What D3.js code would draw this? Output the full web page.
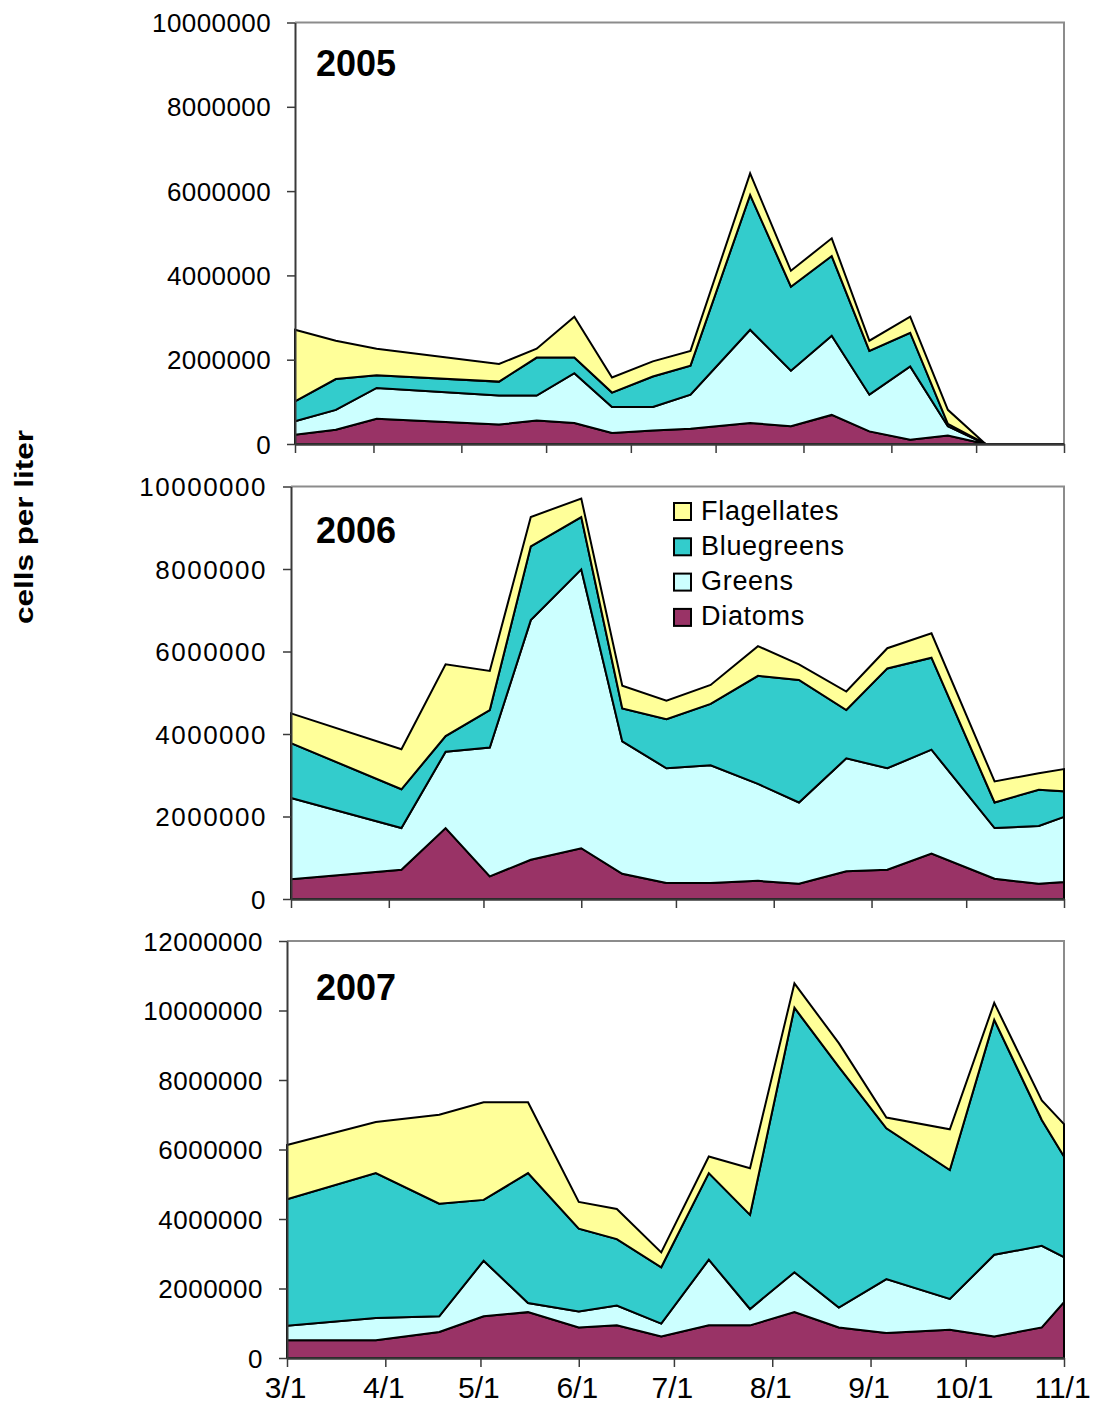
<!DOCTYPE html>
<html>
<head>
<meta charset="utf-8">
<script src="https://cdn.jsdelivr.net/npm/d3@7"></script>
<style>
  html, body { margin: 0; padding: 0; background: #fff; }
  svg { display: block; }
  text { font-family: "Liberation Sans", Arial, sans-serif; }
</style>
</head>
<body>
<script>
// ---------- DATA (values in millions of cells per liter) ----------
const seriesNames = ["Diatoms", "Greens", "Bluegreens", "Flagellates"];
const legendOrder = ["Flagellates", "Bluegreens", "Greens", "Diatoms"];
const seriesColors = ["#993366", "#CCFFFF", "#33CCCC", "#FFFF99"];

const dates2005 = ["3/1","3/14","3/27","5/5","5/17","5/29","6/10","6/23","7/5","7/24","8/6","8/19","8/31","9/13","9/25","10/7","11/1"];
const diatoms2005     = [0.22,0.34,0.60,0.46,0.56,0.50,0.26,0.32,0.36,0.50,0.42,0.69,0.30,0.10,0.20,0,0];
const greens2005      = [0.32,0.47,0.73,0.69,0.59,1.18,0.62,0.56,0.81,2.21,1.32,1.88,0.87,1.74,0.22,0,0];
const bluegreens2005  = [0.47,0.73,0.30,0.33,0.90,0.37,0.34,0.72,0.69,3.20,1.99,1.89,1.04,0.80,0.06,0,0];
const flagellates2005 = [1.70,0.91,0.63,0.42,0.21,0.97,0.36,0.36,0.35,0.51,0.38,0.42,0.24,0.38,0.33,0,0];

const dates2006 = ["3/1","4/5","4/19","5/3","5/16","6/1","6/14","6/28","7/12","7/27","8/9","8/24","9/6","9/20","10/10","10/24","11/1"];
const diatoms2006     = [0.48,0.71,1.72,0.55,0.95,1.23,0.61,0.39,0.39,0.44,0.37,0.67,0.71,1.10,0.49,0.37,0.41];
const greens2006      = [1.97,1.01,1.85,3.12,5.81,6.76,3.21,2.78,2.85,2.35,1.97,2.74,2.46,2.52,1.23,1.40,1.58];
const bluegreens2006  = [1.33,0.94,0.38,0.91,1.79,1.27,0.80,1.19,1.49,2.62,2.97,1.17,2.42,2.23,0.62,0.88,0.62];
const flagellates2006 = [0.72,0.97,1.74,0.95,0.71,0.45,0.55,0.45,0.46,0.72,0.38,0.45,0.49,0.59,0.51,0.40,0.54];

const dates2007 = ["3/1","3/29","4/18","5/2","5/16","6/1","6/13","6/27","7/12","7/25","8/8","8/22","9/6","9/26","10/10","10/25","11/1"];
const diatoms2007     = [0.51,0.51,0.75,1.20,1.32,0.88,0.94,0.62,0.94,0.94,1.32,0.88,0.72,0.81,0.62,0.88,1.61];
const greens2007      = [0.42,0.64,0.45,1.60,0.26,0.46,0.57,0.37,1.89,0.47,1.15,0.57,1.55,0.89,2.35,2.35,1.29];
const bluegreens2007  = [3.64,4.17,3.24,1.75,3.74,2.38,1.91,1.62,2.49,2.71,7.61,6.93,4.34,3.71,6.76,3.62,2.90];
const flagellates2007 = [1.56,1.47,2.56,2.81,2.04,0.77,0.87,0.43,0.48,1.34,0.70,0.68,0.31,1.17,0.49,0.56,0.93];

const yTicks2005 = [0, 2000000, 4000000, 6000000, 8000000, 10000000];
const yTicks2006 = [0, 2000000, 4000000, 6000000, 8000000, 10000000];
const yTicks2007 = [0, 2000000, 4000000, 6000000, 8000000, 10000000, 12000000];
const xTicks2005 = ["3/1","3/26","4/23","5/20","6/16","7/13","8/10","9/7","10/4","11/1"];
const xTickLabels = ["3/1","4/1","5/1","6/1","7/1","8/1","9/1","10/1","11/1"];
const yearLabels = ["2005", "2006", "2007"];
const yAxisTitle = "cells per liter";

// ---------- LAYOUT ----------
const W = 1097, H = 1411;
const svg = d3.select("body").append("svg").attr("width", W).attr("height", H);

const panels = [
  { year: 2005, dates: dates2005, vals: [diatoms2005, greens2005, bluegreens2005, flagellates2005],
    yTicks: yTicks2005, yMax: 10000000, left: 295, right: 1064, top: 22.5, bottom: 444,
    xTicks: xTicks2005, xLabels: false, labelY: 76, yls: 0.4 },
  { year: 2006, dates: dates2006, vals: [diatoms2006, greens2006, bluegreens2006, flagellates2006],
    yTicks: yTicks2006, yMax: 10000000, left: 291, right: 1064, top: 486.5, bottom: 899,
    xTicks: xTickLabels, xLabels: false, legend: true, labelY: 543, yls: 1.5 },
  { year: 2007, dates: dates2007, vals: [diatoms2007, greens2007, bluegreens2007, flagellates2007],
    yTicks: yTicks2007, yMax: 12000000, left: 287, right: 1064, top: 941, bottom: 1358,
    xTicks: xTickLabels, xLabels: true, labelY: 1000, yls: 0.5 }
];

const axisDark = "#3a3a3a";
const borderGray = "#8c8c8c";

panels.forEach((p, pi) => {
  const parse = s => { const [m, d] = s.split("/").map(Number); return new Date(p.year, m - 1, d); };
  const start = new Date(p.year, 2, 1), end = new Date(p.year, 10, 1);
  const x = d3.scaleTime().domain([start, end]).range([p.left, p.right]);
  const y = d3.scaleLinear().domain([0, p.yMax]).range([p.bottom, p.top]);

  const rows = p.dates.map((ds, i) => {
    const r = { date: parse(ds) };
    seriesNames.forEach((n, k) => r[n] = p.vals[k][i] * 1e6);
    return r;
  });
  const stacked = d3.stack().keys(seriesNames)(rows);
  const area = d3.area().x(d => x(d.data.date)).y0(d => y(d[0])).y1(d => y(d[1]));

  const g = svg.append("g");

  // plot frame (top & right gray)
  g.append("path")
    .attr("d", `M${p.left},${p.top}H${p.right}V${p.bottom}`)
    .attr("fill", "none").attr("stroke", borderGray).attr("stroke-width", 2);

  g.selectAll("path.area").data(stacked).join("path")
    .attr("class", "area")
    .attr("d", area)
    .attr("fill", (d, i) => seriesColors[i])
    .attr("stroke", "#000").attr("stroke-width", 2).attr("stroke-linejoin", "miter");

  // y axis
  const yAxis = d3.axisLeft(y).tickValues(p.yTicks).tickFormat(d3.format("d")).tickSizeInner(8).tickSizeOuter(0).tickPadding(16);
  const ya = g.append("g").attr("transform", `translate(${p.left},0)`).call(yAxis);
  ya.select(".domain").attr("stroke", axisDark).attr("stroke-width", 2);
  ya.selectAll(".tick line").attr("stroke", axisDark).attr("stroke-width", 1.5);
  ya.selectAll(".tick text").attr("font-size", 26).attr("fill", "#000")
    .attr("letter-spacing", p.yls)
    .attr("font-family", "'Liberation Sans', Arial, sans-serif").attr("dy", "0.35em");

  // x axis
  const xt = p.xTicks.map(parse);
  const xAxis = d3.axisBottom(x).tickValues(xt).tickSizeInner(9).tickSizeOuter(0)
    .tickFormat((d, i) => p.xLabels ? xTickLabels[i] : "").tickPadding(10);
  const xa = g.append("g").attr("transform", `translate(0,${p.bottom})`).call(xAxis);
  xa.select(".domain").attr("stroke", axisDark).attr("stroke-width", 2.5);
  xa.selectAll(".tick line").attr("stroke", axisDark).attr("stroke-width", 1.5);
  xa.selectAll(".tick text").attr("font-size", 30).attr("fill", "#000")
    .attr("dx", -2)
    .attr("font-family", "'Liberation Sans', Arial, sans-serif");

  // year label
  g.append("text").attr("x", 316).attr("y", p.labelY)
    .attr("font-size", 36).attr("font-weight", "bold").attr("fill", "#000")
    .text(yearLabels[pi]);

  if (p.legend) {
    const lg = g.append("g").attr("transform", "translate(674,503)");
    legendOrder.forEach((n, i) => {
      const k = seriesNames.indexOf(n);
      const it = lg.append("g").attr("transform", `translate(0,${i * 35.3})`);
      it.append("rect").attr("width", 17).attr("height", 17)
        .attr("fill", seriesColors[k]).attr("stroke", "#000").attr("stroke-width", 2);
      it.append("text").attr("x", 27).attr("y", 16.5).attr("font-size", 27)
        .attr("letter-spacing", 0.7).attr("fill", "#000").text(n);
    });
  }
});

// y axis title
svg.append("text")
  .attr("transform", "translate(33,527) rotate(-90)")
  .attr("text-anchor", "middle")
  .attr("font-size", 25).attr("font-weight", "bold")
  .attr("textLength", 194).attr("lengthAdjust", "spacingAndGlyphs")
  .text(yAxisTitle);
</script>
</body>
</html>
